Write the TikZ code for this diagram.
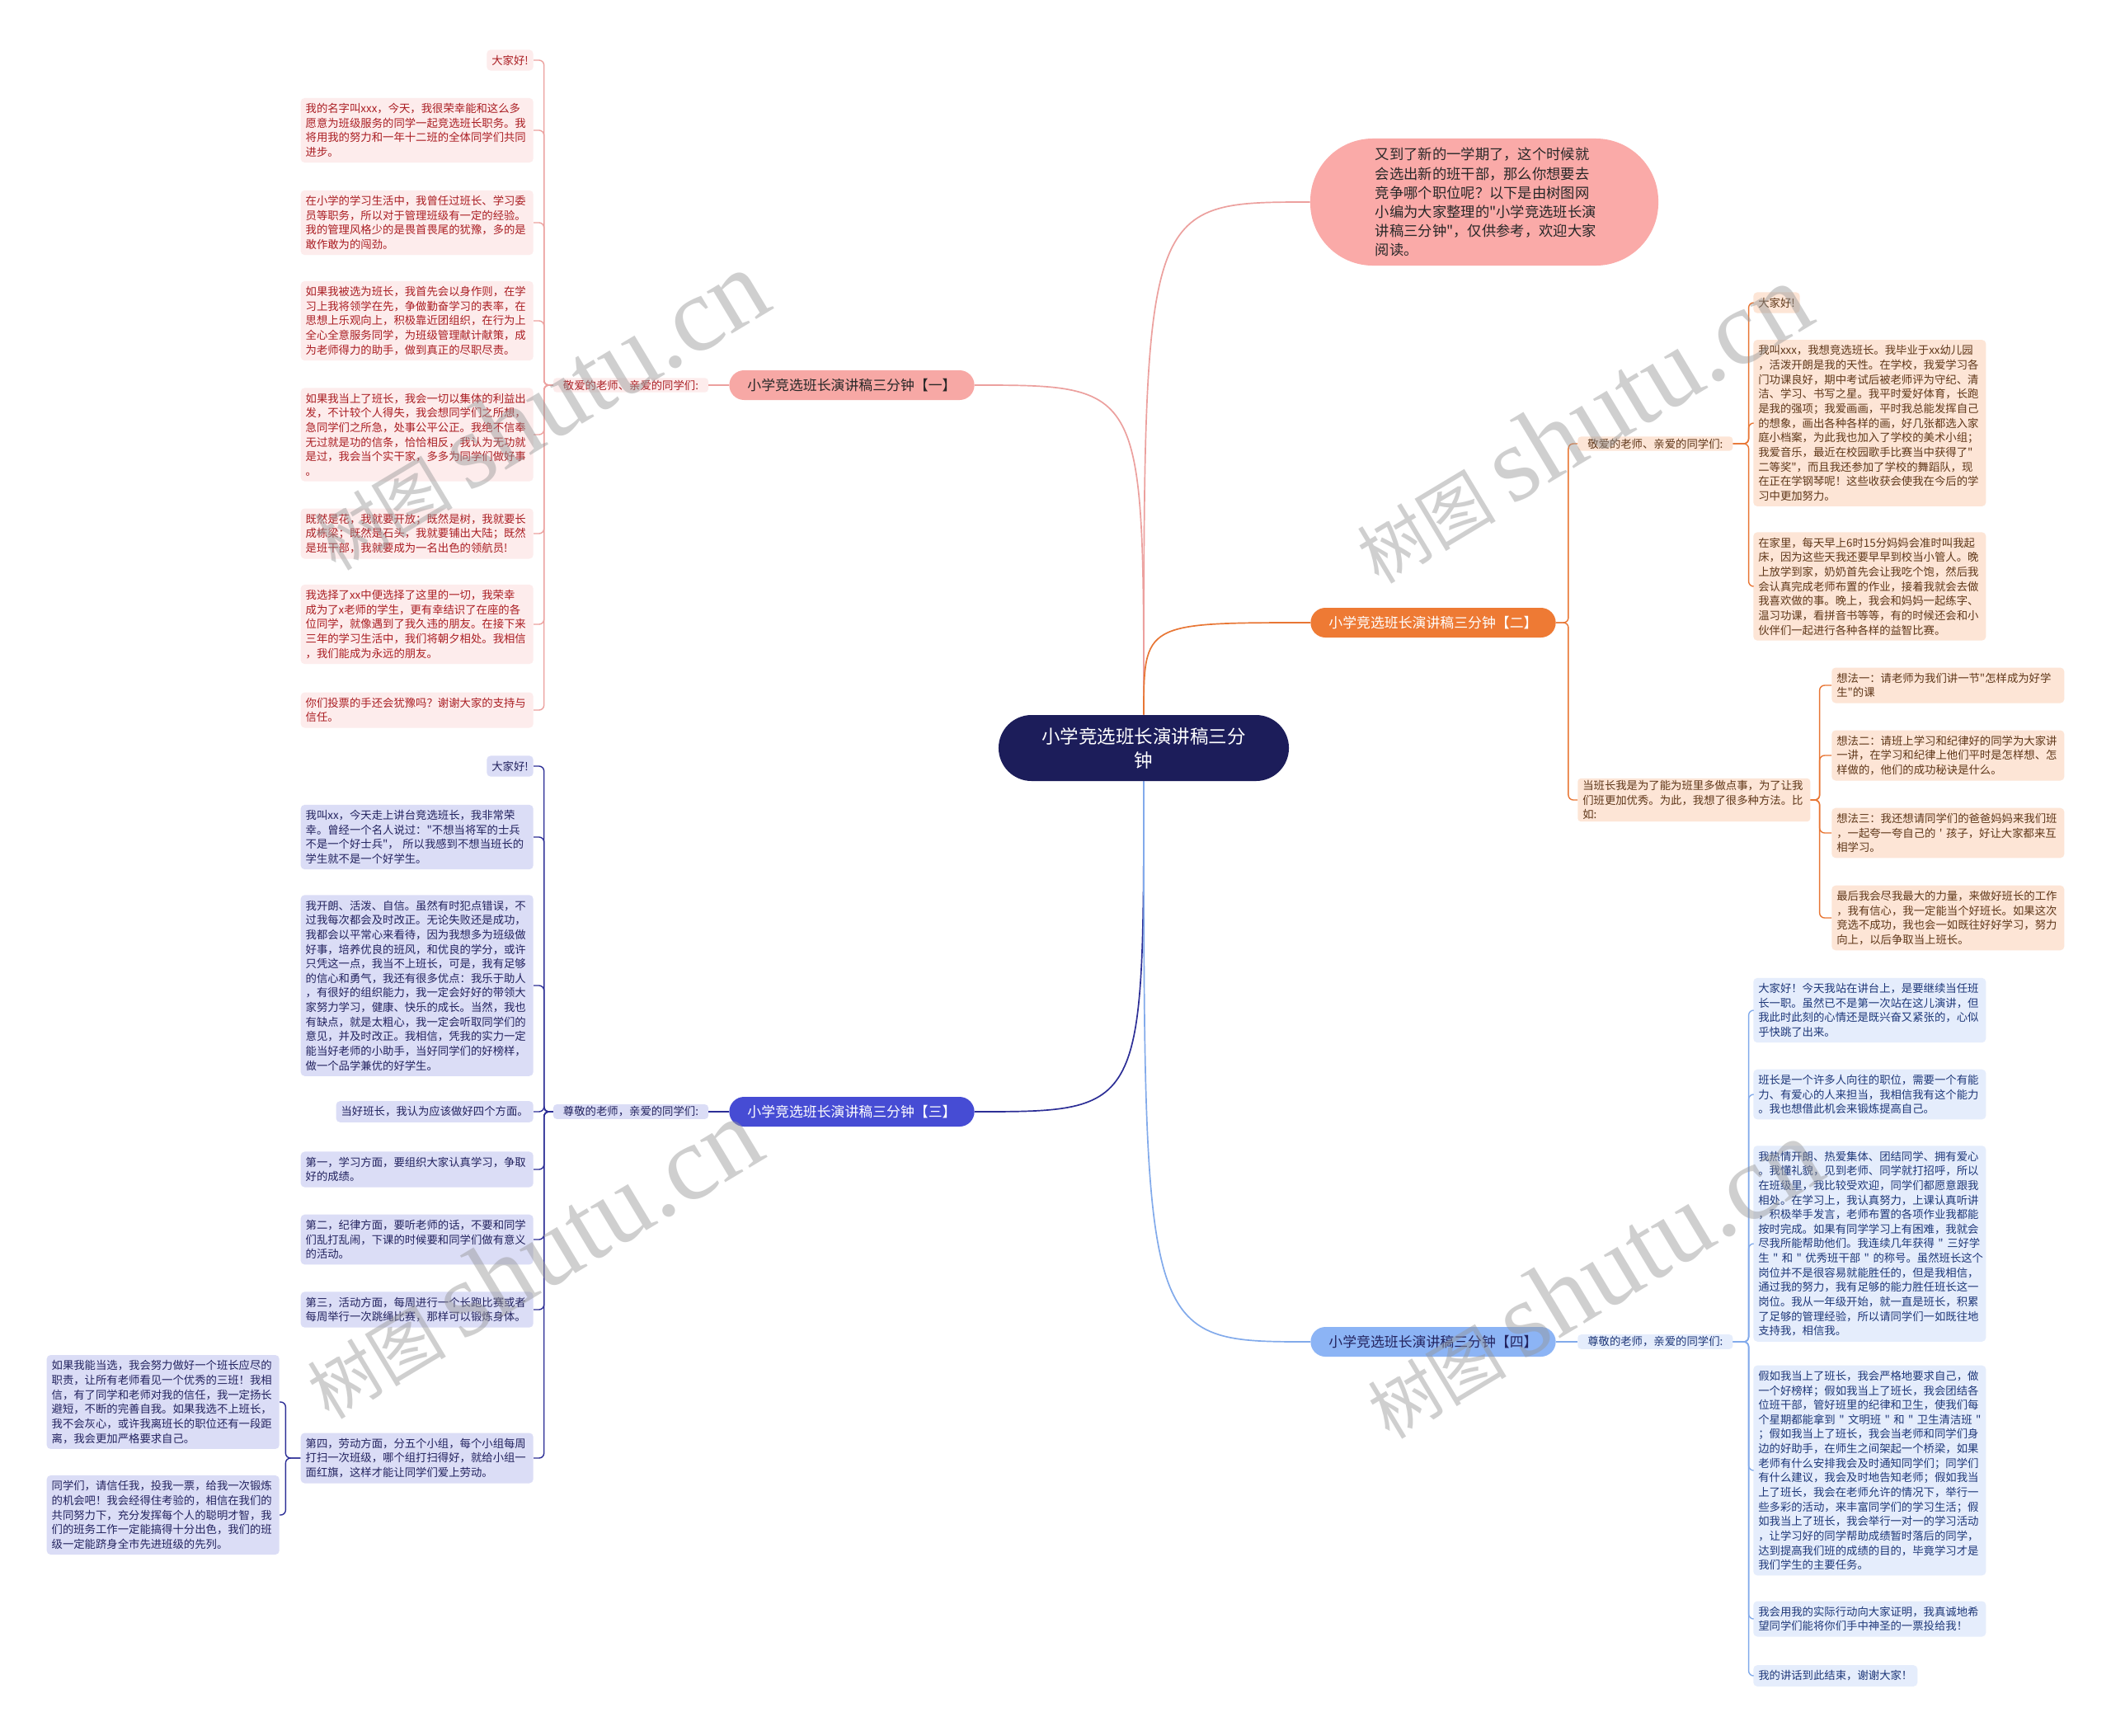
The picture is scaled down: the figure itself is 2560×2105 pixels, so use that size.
\documentclass[tikz,border=0pt]{standalone}
\usepackage{fontspec}
\newfontfamily\cjk{Noto Sans CJK SC}
\newfontfamily\wmlatin{Liberation Serif}
\usepackage{xcolor}
\usepackage{tikz}
\usetikzlibrary{positioning,calc}
\newcommand\cjksize[2]{\cjk\fontsize{#1}{#2}\selectfont}
\definecolor{rootnavy}    {RGB}{28,29,90}
\definecolor{intropink}   {RGB}{250,170,168}
\definecolor{branchpink}  {RGB}{247,168,165}
\definecolor{branchorange}{RGB}{238,122,52}
\definecolor{branchblue}  {RGB}{70,76,212}
\definecolor{branchsky}   {RGB}{140,180,245}
\definecolor{linepink}    {RGB}{236,160,158}
\definecolor{lineorange}  {RGB}{232,118,52}
\definecolor{lineblue}    {RGB}{44,46,150}
\definecolor{linesky}     {RGB}{130,170,235}
\definecolor{leafpink}    {RGB}{253,236,236}
\definecolor{leafpeach}   {RGB}{253,229,214}
\definecolor{leaflav}     {RGB}{219,221,246}
\definecolor{leafsky}     {RGB}{229,237,252}
\definecolor{textred}     {RGB}{170,30,35}
\definecolor{textbrown}   {RGB}{95,55,25}
\definecolor{textnavy}    {RGB}{35,35,95}
\definecolor{textsky}     {RGB}{30,55,120}
\definecolor{textdark}    {RGB}{40,40,40}
\definecolor{wmgray}      {RGB}{150,150,150}

\begin{document}
\begin{tikzpicture}[
  x=0.025cm, y=-0.025cm,
  font=\cjksize{9.5}{12.55},
  rootnode/.style={rectangle, rounded corners=1cm, fill=rootnavy, text=white,
    minimum width=8.8cm, minimum height=2cm, align=center,
    font=\cjksize{16}{20.5}},
  intronode/.style={rectangle, rounded corners=1.9cm, fill=intropink,
    text=textdark, minimum width=10.55cm, minimum height=3.85cm,
    text width=6.6cm, align=left, font=\cjksize{12.3}{16.4}},
  branch/.style={rectangle, rounded corners=0.45cm, minimum width=7.43cm,
    minimum height=0.9cm, font=\cjksize{12}{14}},
  sublabel/.style={rectangle, rounded corners=0.1cm, inner xsep=0.3cm,
    inner ysep=0.06cm, align=left},
  leaf/.style={rectangle, rounded corners=0.12cm, align=left,
    inner xsep=0.15cm, inner ysep=4.6pt},
  wideleaf/.style={leaf, text width=6.75cm},
  pinkleaf/.style={fill=leafpink, text=textred},
  peachleaf/.style={fill=leafpeach, text=textbrown},
  lavleaf/.style={fill=leaflav, text=textnavy},
  skyleaf/.style={fill=leafsky, text=textsky},
  pinkline/.style={draw=linepink, line width=1pt, rounded corners=0.15cm},
  orangeline/.style={draw=lineorange, line width=1pt, rounded corners=0.15cm},
  blueline/.style={draw=lineblue, line width=1pt, rounded corners=0.15cm},
  skyline/.style={draw=linesky, line width=1pt, rounded corners=0.15cm},
  watermark/.style={text=wmgray, text opacity=0.45, rotate=31,
    font=\cjksize{60}{60}},
]
\fill[white] (0,0) rectangle (2560,2105);
\useasboundingbox (0,0) rectangle (2560,2105);

% centre and intro
\node[rootnode] (root) at (1387,907) {小学竞选班长演讲稿三分\\钟};
\node[intronode] (intro) at (1800,245)
  {又到了新的一学期了，这个时候就\\会选出新的班干部，那么你想要去\\竞争哪个职位呢？以下是由树图网\\小编为大家整理的"小学竞选班长演\\讲稿三分钟"，仅供参考，欢迎大家\\阅读。};

% branches
\node[branch, fill=branchpink, text=textdark] (b1) at (1033,467)
  {小学竞选班长演讲稿三分钟【一】};
\node[branch, fill=branchorange, text=white] (b2) at (1738,755)
  {小学竞选班长演讲稿三分钟【二】};
\node[branch, fill=branchblue, text=white] (b3) at (1033,1348)
  {小学竞选班长演讲稿三分钟【三】};
\node[branch, fill=branchsky, text=textnavy] (b4) at (1738,1627)
  {小学竞选班长演讲稿三分钟【四】};

% branch one (left, pink)
\node[sublabel, pinkleaf] (l1) at (765,467) {敬爱的老师、亲爱的同学们:};
\node[leaf, pinkleaf, anchor=east] (t1a) at (647,73) {大家好!};
\node[wideleaf, pinkleaf, anchor=east] (t1b) at (647,158)
  {我的名字叫xxx，今天，我很荣幸能和这么多\\愿意为班级服务的同学一起竞选班长职务。我\\将用我的努力和一年十二班的全体同学们共同\\进步。};
\node[wideleaf, pinkleaf, anchor=east] (t1c) at (647,270)
  {在小学的学习生活中，我曾任过班长、学习委\\员等职务，所以对于管理班级有一定的经验。\\我的管理风格少的是畏首畏尾的犹豫，多的是\\敢作敢为的闯劲。};
\node[wideleaf, pinkleaf, anchor=east] (t1d) at (647,389)
  {如果我被选为班长，我首先会以身作则，在学\\习上我将领学在先，争做勤奋学习的表率，在\\思想上乐观向上，积极靠近团组织，在行为上\\全心全意服务同学，为班级管理献计献策，成\\为老师得力的助手，做到真正的尽职尽责。};
\node[wideleaf, pinkleaf, anchor=east] (t1e) at (647,527)
  {如果我当上了班长，我会一切以集体的利益出\\发，不计较个人得失，我会想同学们之所想，\\急同学们之所急，处事公平公正。我绝不信奉\\无过就是功的信条，恰恰相反，我认为无功就\\是过，我会当个实干家，多多为同学们做好事\\。};
\node[wideleaf, pinkleaf, anchor=east] (t1f) at (647,647)
  {既然是花，我就要开放；既然是树，我就要长\\成栋梁；既然是石头，我就要铺出大陆；既然\\是班干部，我就要成为一名出色的领航员!};
\node[wideleaf, pinkleaf, anchor=east] (t1g) at (647,757)
  {我选择了xx中便选择了这里的一切，我荣幸\\成为了x老师的学生，更有幸结识了在座的各\\位同学，就像遇到了我久违的朋友。在接下来\\三年的学习生活中，我们将朝夕相处。我相信\\，我们能成为永远的朋友。};
\node[wideleaf, pinkleaf, anchor=east] (t1h) at (647,861)
  {你们投票的手还会犹豫吗？谢谢大家的支持与\\信任。};

% branch two (right, orange)
\node[sublabel, peachleaf, anchor=west] (r2a) at (1913,538) {敬爱的老师、亲爱的同学们:};
\node[sublabel, peachleaf, anchor=west, text width=6.75cm, inner xsep=0.15cm] (r2b) at (1913,970)
  {当班长我是为了能为班里多做点事，为了让我\\们班更加优秀。为此，我想了很多种方法。比\\如:};
\node[leaf, peachleaf, anchor=west] (t2a) at (2126,367) {大家好!};
\node[wideleaf, peachleaf, anchor=west] (t2b) at (2126,513)
  {我叫xxx，我想竞选班长。我毕业于xx幼儿园\\，活泼开朗是我的天性。在学校，我爱学习各\\门功课良好，期中考试后被老师评为守纪、清\\洁、学习、书写之星。我平时爱好体育，长跑\\是我的强项；我爱画画，平时我总能发挥自己\\的想象，画出各种各样的画，好几张都选入家\\庭小档案，为此我也加入了学校的美术小组；\\我爱音乐，最近在校园歌手比赛当中获得了"\\二等奖"，而且我还参加了学校的舞蹈队，现\\在正在学钢琴呢！这些收获会使我在今后的学\\习中更加努力。};
\node[wideleaf, peachleaf, anchor=west] (t2c) at (2126,711)
  {在家里，每天早上6时15分妈妈会准时叫我起\\床，因为这些天我还要早早到校当小管人。晚\\上放学到家，奶奶首先会让我吃个饱，然后我\\会认真完成老师布置的作业，接着我就会去做\\我喜欢做的事。晚上，我会和妈妈一起练字、\\温习功课，看拼音书等等，有的时候还会和小\\伙伴们一起进行各种各样的益智比赛。};
\node[wideleaf, peachleaf, anchor=west] (t2d) at (2221,831)
  {想法一：请老师为我们讲一节"怎样成为好学\\生"的课};
\node[wideleaf, peachleaf, anchor=west] (t2e) at (2221,916)
  {想法二：请班上学习和纪律好的同学为大家讲\\一讲，在学习和纪律上他们平时是怎样想、怎\\样做的，他们的成功秘诀是什么。};
\node[wideleaf, peachleaf, anchor=west] (t2f) at (2221,1010)
  {想法三：我还想请同学们的爸爸妈妈来我们班\\，一起夸一夸自己的~'~孩子，好让大家都来互\\相学习。};
\node[wideleaf, peachleaf, anchor=west] (t2g) at (2221,1113)
  {最后我会尽我最大的力量，来做好班长的工作\\，我有信心，我一定能当个好班长。如果这次\\竞选不成功，我也会一如既往好好学习，努力\\向上，以后争取当上班长。};

% branch three (left, blue)
\node[sublabel, lavleaf] (l3) at (765,1348) {尊敬的老师，亲爱的同学们:};
\node[leaf, lavleaf, anchor=east] (t3a) at (647,929) {大家好!};
\node[wideleaf, lavleaf, anchor=east] (t3b) at (647,1015)
  {我叫xx，今天走上讲台竞选班长，我非常荣\\幸。曾经一个名人说过："不想当将军的士兵\\不是一个好士兵"，~所以我感到不想当班长的\\学生就不是一个好学生。};
\node[wideleaf, lavleaf, anchor=east] (t3c) at (647,1195)
  {我开朗、活泼、自信。虽然有时犯点错误，不\\过我每次都会及时改正。无论失败还是成功，\\我都会以平常心来看待，因为我想多为班级做\\好事，培养优良的班风，和优良的学分，或许\\只凭这一点，我当不上班长，可是，我有足够\\的信心和勇气，我还有很多优点：我乐于助人\\，有很好的组织能力，我一定会好好的带领大\\家努力学习，健康、快乐的成长。当然，我也\\有缺点，就是太粗心，我一定会听取同学们的\\意见，并及时改正。我相信，凭我的实力一定\\能当好老师的小助手，当好同学们的好榜样，\\做一个品学兼优的好学生。};
\node[leaf, lavleaf, anchor=east] (t3d) at (647,1348) {当好班长，我认为应该做好四个方面。};
\node[wideleaf, lavleaf, anchor=east] (t3e) at (647,1418)
  {第一，学习方面，要组织大家认真学习，争取\\好的成绩。};
\node[wideleaf, lavleaf, anchor=east] (t3f) at (647,1503)
  {第二，纪律方面，要听老师的话，不要和同学\\们乱打乱闹，下课的时候要和同学们做有意义\\的活动。};
\node[wideleaf, lavleaf, anchor=east] (t3g) at (647,1588)
  {第三，活动方面，每周进行一个长跑比赛或者\\每周举行一次跳绳比赛，那样可以锻炼身体。};
\node[wideleaf, lavleaf, anchor=east] (t3h) at (647,1768)
  {第四，劳动方面，分五个小组，每个小组每周\\打扫一次班级，哪个组打扫得好，就给小组一\\面红旗，这样才能让同学们爱上劳动。};
\node[wideleaf, lavleaf, anchor=east] (t3i) at (339,1700)
  {如果我能当选，我会努力做好一个班长应尽的\\职责，让所有老师看见一个优秀的三班！我相\\信，有了同学和老师对我的信任，我一定扬长\\避短，不断的完善自我。如果我选不上班长，\\我不会灰心，或许我离班长的职位还有一段距\\离，我会更加严格要求自己。};
\node[wideleaf, lavleaf, anchor=east] (t3j) at (339,1837)
  {同学们，请信任我，投我一票，给我一次锻炼\\的机会吧！我会经得住考验的，相信在我们的\\共同努力下，充分发挥每个人的聪明才智，我\\们的班务工作一定能搞得十分出色，我们的班\\级一定能跻身全市先进班级的先列。};

% branch four (right, sky)
\node[sublabel, skyleaf, anchor=west] (r4a) at (1913,1627) {尊敬的老师，亲爱的同学们:};
\node[wideleaf, skyleaf, anchor=west] (t4a) at (2126,1225)
  {大家好！今天我站在讲台上，是要继续当任班\\长一职。虽然已不是第一次站在这儿演讲，但\\我此时此刻的心情还是既兴奋又紧张的，心似\\乎快跳了出来。};
\node[wideleaf, skyleaf, anchor=west] (t4b) at (2126,1327)
  {班长是一个许多人向往的职位，需要一个有能\\力、有爱心的人来担当，我相信我有这个能力\\。我也想借此机会来锻炼提高自己。};
\node[wideleaf, skyleaf, anchor=west] (t4c) at (2126,1508)
  {我热情开朗、热爱集体、团结同学、拥有爱心\\。我懂礼貌，见到老师、同学就打招呼，所以\\在班级里，我比较受欢迎，同学们都愿意跟我\\相处。在学习上，我认真努力，上课认真听讲\\，积极举手发言，老师布置的各项作业我都能\\按时完成。如果有同学学习上有困难，我就会\\尽我所能帮助他们。我连续几年获得~"~三好学\\生~"~和~"~优秀班干部~"~的称号。虽然班长这个\\岗位并不是很容易就能胜任的，但是我相信，\\通过我的努力，我有足够的能力胜任班长这一\\岗位。我从一年级开始，就一直是班长，积累\\了足够的管理经验，所以请同学们一如既往地\\支持我，相信我。};
\node[wideleaf, skyleaf, anchor=west] (t4d) at (2126,1783)
  {假如我当上了班长，我会严格地要求自己，做\\一个好榜样；假如我当上了班长，我会团结各\\位班干部，管好班里的纪律和卫生，使我们每\\个星期都能拿到~"~文明班~"~和~"~卫生清洁班~"\\；假如我当上了班长，我会当老师和同学们身\\边的好助手，在师生之间架起一个桥梁，如果\\老师有什么安排我会及时通知同学们；同学们\\有什么建议，我会及时地告知老师；假如我当\\上了班长，我会在老师允许的情况下，举行一\\些多彩的活动，来丰富同学们的学习生活；假\\如我当上了班长，我会举行一对一的学习活动\\，让学习好的同学帮助成绩暂时落后的同学，\\达到提高我们班的成绩的目的，毕竟学习才是\\我们学生的主要任务。};
\node[wideleaf, skyleaf, anchor=west] (t4e) at (2126,1963)
  {我会用我的实际行动向大家证明，我真诚地希\\望同学们能将你们手中神圣的一票投给我！};
\node[leaf, skyleaf, anchor=west] (t4f) at (2126,2032) {我的讲话到此结束，谢谢大家！};

% main curves
\draw[pinkline, line width=1.2pt] (root.north)
  .. controls (root.north |- intro.west) and (root.north |- intro.west) .. (intro.west);
\draw[pinkline, line width=1.2pt] (root.north)
  .. controls (root.north |- b1.east) and (root.north |- b1.east) .. (b1.east);
\draw[orangeline, line width=1.2pt] (root.north)
  .. controls (root.north |- b2.west) and (root.north |- b2.west) .. (b2.west);
\draw[blueline, line width=1.2pt] (root.south)
  .. controls (root.south |- b3.east) and (root.south |- b3.east) .. (b3.east);
\draw[skyline, line width=1.2pt] (root.south)
  .. controls (root.south |- b4.west) and (root.south |- b4.west) .. (b4.west);

% branch links
\draw[pinkline] (b1.west) -- (l1.east);
\foreach \leafname in {t1a,t1b,t1c,t1d,t1e,t1f,t1g,t1h}
  \draw[pinkline] (l1.west) -- ++(-11,0) |- (\leafname.east);
\draw[orangeline] (b2.east) -- ++(15,0) |- (r2a.west);
\draw[orangeline] (b2.east) -- ++(15,0) |- (r2b.west);
\foreach \leafname in {t2a,t2b,t2c}
  \draw[orangeline] (r2a.east) -- ++(19,0) |- (\leafname.west);
\foreach \leafname in {t2d,t2e,t2f,t2g}
  \draw[orangeline] (r2b.east) -- ++(11,0) |- (\leafname.west);
\draw[blueline] (b3.west) -- (l3.east);
\foreach \leafname in {t3a,t3b,t3c,t3d,t3e,t3f,t3g,t3h}
  \draw[blueline] (l3.west) -- ++(-11,0) |- (\leafname.east);
\foreach \leafname in {t3i,t3j}
  \draw[blueline] (t3h.west) -- ++(-18,0) |- (\leafname.east);
\draw[skyline] (b4.east) -- (r4a.west);
\foreach \leafname in {t4a,t4b,t4c,t4d,t4e,t4f}
  \draw[skyline] (r4a.east) -- ++(19,0) |- (\leafname.west);

% watermarks
\node[watermark] (wm1) at (653,498)  {树图 {\wmlatin\fontsize{92}{92}\selectfont shutu.cn}};
\node[watermark] (wm2) at (1918,514) {树图 {\wmlatin\fontsize{92}{92}\selectfont shutu.cn}};
\node[watermark] (wm3) at (645,1527) {树图 {\wmlatin\fontsize{92}{92}\selectfont shutu.cn}};
\node[watermark] (wm4) at (1931,1551) {树图 {\wmlatin\fontsize{92}{92}\selectfont shutu.cn}};
\end{tikzpicture}
\end{document}
